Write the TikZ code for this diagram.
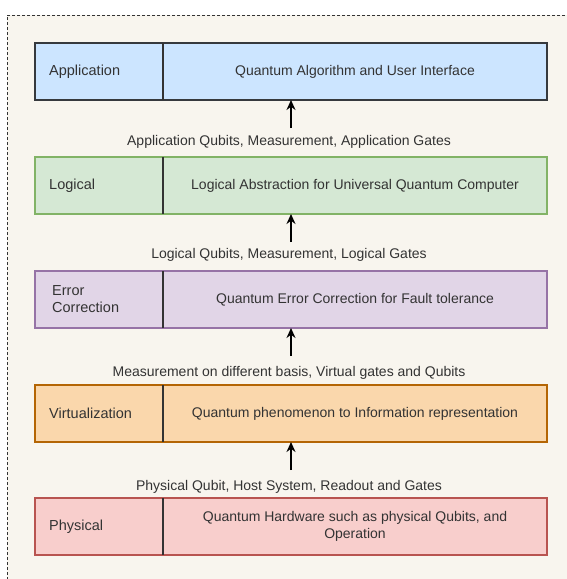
\documentclass[tikz,border=0pt]{standalone}
\usepackage{fontspec}
\setmainfont{Liberation Sans}
\usetikzlibrary{arrows.meta}
\definecolor{bgcream}{HTML}{F8F5EE}
\definecolor{txt}{HTML}{333333}
\definecolor{appfill}{HTML}{CCE5FF}\definecolor{appline}{HTML}{36393D}
\definecolor{logfill}{HTML}{D5E8D4}\definecolor{logline}{HTML}{82B366}
\definecolor{errfill}{HTML}{E1D5E7}\definecolor{errline}{HTML}{9673A6}
\definecolor{virfill}{HTML}{FAD7AC}\definecolor{virline}{HTML}{B46504}
\definecolor{phyfill}{HTML}{F8CECC}\definecolor{phyline}{HTML}{B85450}
\tikzset{
  namebox/.style={anchor=north west, minimum width=128pt, minimum height=57pt, inner sep=0pt, outer sep=0pt, line width=1.2pt},
  descbox/.style={anchor=north west, minimum width=384pt, minimum height=57pt, inner sep=0pt, outer sep=0pt,
    text=txt, font=\fontsize{14}{17}\selectfont, align=center, line width=1.2pt},
  nametext/.style={anchor=west, text=txt, font=\fontsize{14.5}{17}\selectfont, align=left, inner sep=0pt},
  lbl/.style={text=txt, font=\fontsize{14}{17}\selectfont, inner sep=0pt},
  divider/.style={draw=txt, line width=1.2pt},
  arr/.style={-{Stealth[length=10pt,width=9pt]}, line width=1.4pt, black}
}
\begin{document}
\begin{tikzpicture}[x=1pt,y=-1pt]
\useasboundingbox (0,0) rectangle (567,579);
\fill[white] (0,0) rectangle (567,579);
\fill[bgcream] (7,15) rectangle (567,579);
\draw[txt, line width=0.8pt, dash pattern=on 3pt off 2pt] (575,15) -- (7,15) -- (7,590);
% Application
\node[namebox, draw=appline, fill=appfill] (appn) at (35,43) {};
\node[descbox, draw=appline, fill=appfill] (appd) at (163,43) {Quantum Algorithm and User Interface};
\node[nametext] (appt) at ([xshift=14pt]appn.west) {Application};
\draw[divider] (appn.north east) -- (appn.south east);
% Logical
\node[namebox, draw=logline, fill=logfill] (logn) at (35,157) {};
\node[descbox, draw=logline, fill=logfill] (logd) at (163,157) {Logical Abstraction for Universal Quantum Computer};
\node[nametext] (logt) at ([xshift=14pt]logn.west) {Logical};
\draw[divider] (logn.north east) -- (logn.south east);
% Error correction
\node[namebox, draw=errline, fill=errfill] (errn) at (35,271) {};
\node[descbox, draw=errline, fill=errfill] (errd) at (163,271) {Quantum Error Correction for Fault tolerance};
\node[nametext] (errt) at ([xshift=17pt]errn.west) {Error\\Correction};
\draw[divider] (errn.north east) -- (errn.south east);
% Virtualization
\node[namebox, draw=virline, fill=virfill] (virn) at (35,385) {};
\node[descbox, draw=virline, fill=virfill] (vird) at (163,385) {Quantum phenomenon to Information representation};
\node[nametext] (virt) at ([xshift=14pt]virn.west) {Virtualization};
\draw[divider] (virn.north east) -- (virn.south east);
% Physical
\node[namebox, draw=phyline, fill=phyfill] (phyn) at (35,498) {};
\node[descbox, draw=phyline, fill=phyfill] (phyd) at (163,498) {Quantum Hardware such as physical Qubits, and\\Operation};
\node[nametext] (phyt) at ([xshift=14pt]phyn.west) {Physical};
\draw[divider] (phyn.north east) -- (phyn.south east);
% labels
\node[lbl] (l1) at (289,142) {Application Qubits, Measurement, Application Gates};
\node[lbl] (l2) at (289,255) {Logical Qubits, Measurement, Logical Gates};
\node[lbl] (l3) at (289,373) {Measurement on different basis, Virtual gates and Qubits};
\node[lbl] (l4) at (289,487) {Physical Qubit, Host System, Readout and Gates};
% arrows
\coordinate (t1) at (291,128); \coordinate (t2) at (291,242);
\coordinate (t3) at (291,356); \coordinate (t4) at (291,470);
\draw[arr] (t1) -- (t1 |- appd.south);
\draw[arr] (t2) -- (t2 |- logd.south);
\draw[arr] (t3) -- (t3 |- errd.south);
\draw[arr] (t4) -- (t4 |- vird.south);
\end{tikzpicture}
\end{document}
